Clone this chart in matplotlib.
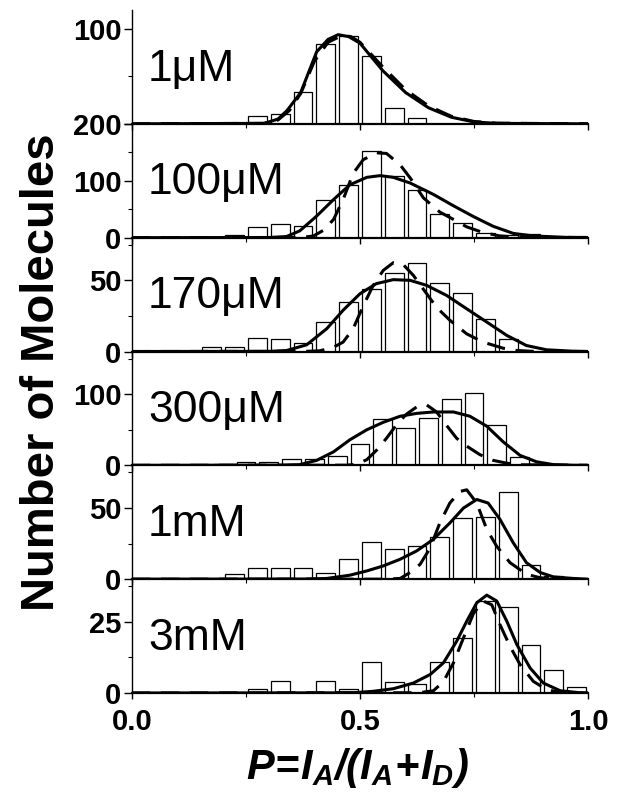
import matplotlib
matplotlib.use("Agg")
import matplotlib.pyplot as plt
from matplotlib import font_manager
from matplotlib.ticker import FixedLocator, FixedFormatter, NullFormatter

# ---------------- data ----------------
labels = ["1\u03bcM", "100\u03bcM", "170\u03bcM", "300\u03bcM", "1mM", "3mM"]

p1_x = [0.275, 0.325, 0.375, 0.425, 0.475, 0.525, 0.575, 0.625]
p1_h = [8, 10, 34, 84, 93, 72, 17, 6]
p2_x = [0.225, 0.275, 0.325, 0.375, 0.425, 0.475, 0.525, 0.575, 0.625, 0.675,
        0.725, 0.775, 0.825, 0.875, 0.925, 0.975]
p2_h = [4, 19, 24, 21, 67, 92, 152, 109, 83, 41, 26, 9, 5, 6, 1, 3]
p3_x = [0.175, 0.225, 0.275, 0.325, 0.375, 0.425, 0.475, 0.525, 0.575, 0.625,
        0.675, 0.725, 0.775, 0.825]
p3_h = [3, 3, 9.5, 9, 6, 21, 35, 44, 55, 62.5, 48, 41, 22.5, 9]
p4_x = [0.20, 0.25, 0.30, 0.35, 0.40, 0.45, 0.50, 0.55, 0.60, 0.65, 0.70, 0.75,
        0.80, 0.85, 0.90]
p4_h = [2, 4, 5, 9.5, 8.5, 13, 30, 65, 52, 67, 93, 102, 57, 12, 2]
p5_x = [0.225, 0.275, 0.325, 0.375, 0.425, 0.475, 0.525, 0.575, 0.625, 0.675,
        0.725, 0.775, 0.825, 0.875, 0.925]
p5_h = [3.5, 7.5, 7.5, 7.5, 4, 14.5, 26, 21, 23, 29.5, 43, 44, 61, 10, 2]
p6_x = [0.275, 0.325, 0.425, 0.475, 0.525, 0.575, 0.625, 0.675, 0.725, 0.775,
        0.825, 0.875, 0.925, 0.975]
p6_h = [1.4, 4.3, 4.3, 1.4, 11, 4, 3.3, 11, 19.4, 32.3, 30.2, 17, 8.2, 2.1]

# solid fit curves
s1_x = [0, 0.29, 0.32, 0.34, 0.37, 0.405, 0.43, 0.452, 0.475, 0.5, 0.55, 0.6, 0.65, 0.7, 0.75, 0.8, 1.0]
s1_y = [0, 0.5, 5, 14, 33, 76, 89, 94, 92, 85, 56, 33, 17, 7, 2, 0.5, 0]
s2_x = [0, 0.3, 0.339, 0.368, 0.405, 0.442, 0.478, 0.515, 0.544, 0.573, 0.61, 0.661, 0.705,
        0.749, 0.792, 0.836, 0.88, 0.953, 1.0]
s2_y = [0, 0.3, 2, 12, 38, 67, 93, 106, 109, 106, 96, 76, 56, 37, 20, 7.5, 3, 0.5, 0]
s3_x = [0, 0.3, 0.339, 0.383, 0.427, 0.463, 0.5, 0.536, 0.573, 0.61, 0.646, 0.69, 0.734,
        0.778, 0.822, 0.865, 0.909, 0.968, 1.0]
s3_y = [0, 0.1, 0.7, 4.7, 16, 29, 40.6, 47.7, 50.5, 50, 46.5, 39.4, 30, 20.7, 11.3, 4.2, 1.2, 0.2, 0]
s4_x = [0, 0.33, 0.368, 0.405, 0.442, 0.478, 0.515, 0.551, 0.588, 0.624, 0.661, 0.705,
        0.741, 0.778, 0.814, 0.851, 0.887, 0.924, 0.968, 1.0]
s4_y = [0, 0.2, 1, 7, 19, 36, 50, 60.5, 69, 73, 75, 75, 69, 55, 33, 14, 5, 1, 0.1, 0]
s5_x = [0, 0.38, 0.427, 0.478, 0.515, 0.551, 0.588, 0.624, 0.661, 0.697, 0.727, 0.756,
        0.781, 0.807, 0.836, 0.865, 0.895, 0.924, 0.968, 1.0]
s5_y = [0, 0.1, 0.5, 2.8, 5.8, 9.3, 14, 19.8, 28, 39.5, 50, 56, 53.5, 42, 25.6, 11.6, 4.7, 1.6, 0.5, 0]
s6_x = [0, 0.44, 0.485, 0.529, 0.573, 0.617, 0.654, 0.683, 0.712, 0.734, 0.756, 0.778,
        0.8, 0.822, 0.844, 0.873, 0.902, 0.939, 0.982, 1.0]
s6_y = [0, 0.05, 0.1, 0.6, 1.5, 3.5, 6.5, 10.6, 18.2, 25.2, 31.7, 34.4, 32.3, 25.2, 17, 8.8,
        3.5, 0.8, 0.1, 0]

# dashed fit curves
d1_x = [0, 0.29, 0.32, 0.345, 0.37, 0.4, 0.43, 0.46, 0.48, 0.5, 0.55, 0.6, 0.65, 0.7, 0.75, 0.8, 1.0]
d1_y = [0, 0.5, 4, 14, 32, 66, 86, 93, 92, 86, 60, 36, 19, 8, 2.5, 0.7, 0]
d2_x = [0, 0.37, 0.398, 0.42, 0.442, 0.463, 0.485, 0.507, 0.536, 0.558, 0.588, 0.61, 0.639,
        0.675, 0.705, 0.734, 0.77, 0.807, 0.85, 1.0]
d2_y = [0, 0.3, 3, 13, 32, 67, 113, 137, 149, 148, 128, 105, 70, 45, 32, 19, 9, 3, 0.5, 0]
d3_x = [0, 0.38, 0.412, 0.442, 0.463, 0.485, 0.507, 0.529, 0.551, 0.573, 0.595, 0.617, 0.643,
        0.668, 0.697, 0.734, 0.77, 0.814, 0.844, 0.88, 1.0]
d3_y = [0, 0.1, 0.5, 3, 6.6, 16, 32, 46.5, 57, 62.4, 61, 53.5, 42, 31, 22, 12.4, 6.6, 2.3, 0.7, 0.1, 0]
d4_x = [0, 0.47, 0.493, 0.515, 0.536, 0.558, 0.58, 0.602, 0.624, 0.646, 0.668, 0.69, 0.712,
        0.734, 0.763, 0.792, 0.822, 0.851, 1.0]
d4_y = [0, 0.2, 1.5, 8, 21, 38, 57, 72, 82, 85, 75, 56, 38, 27, 15, 7, 3, 0.8, 0]
d5_x = [0, 0.55, 0.588, 0.61, 0.632, 0.654, 0.675, 0.697, 0.719, 0.734, 0.756, 0.778, 0.8,
        0.829, 0.865, 0.895, 0.924, 1.0]
d5_y = [0, 0, 0.5, 4.7, 10.5, 22, 39.5, 53.5, 61.6, 62.8, 53.5, 35, 23, 11.6, 3.5, 1, 0.2, 0]
d6_x = [0, 0.63, 0.661, 0.683, 0.705, 0.727, 0.749, 0.77, 0.789, 0.807, 0.829, 0.851, 0.88,
        0.909, 0.939, 1.0]
d6_y = [0, 0.1, 0.8, 4, 10.6, 19.4, 28, 32.3, 31, 24, 16.4, 10, 4.1, 1.2, 0.2, 0]

y_max = [120, 200, 80, 160, 80, 40]
y_major = [[0, 100], [0, 100, 200], [0, 50], [0, 100], [0, 50], [0, 25]]
# the top panel's "0" sits under the "200" of the panel below it in the reference
y_major_labels = [["", "100"], ["0", "100", "200"], ["0", "50"], ["0", "100"],
                  ["0", "50"], ["0", "25"]]
y_minor = [[50], [50, 150], [25, 75], [50, 150], [25, 75], [12.5, 37.5]]
x_major = [0.0, 0.5, 1.0]
x_minor = [0.25, 0.75]
x_ticklabels = ["0.0", "0.5", "1.0"]

bars_x = [p1_x, p2_x, p3_x, p4_x, p5_x, p6_x]
bars_h = [p1_h, p2_h, p3_h, p4_h, p5_h, p6_h]
solid = [(s1_x, s1_y), (s2_x, s2_y), (s3_x, s3_y), (s4_x, s4_y), (s5_x, s5_y), (s6_x, s6_y)]
dashed = [(d1_x, d1_y), (d2_x, d2_y), (d3_x, d3_y), (d4_x, d4_y), (d5_x, d5_y), (d6_x, d6_y)]

# ---------------- fonts ----------------
def has_font(name):
    try:
        font_manager.findfont(font_manager.FontProperties(family=name, weight="bold"),
                              fallback_to_default=False)
        return True
    except Exception:
        return False

SANS = "Liberation Sans"
NARROW = "Liberation Sans Narrow" if has_font("Liberation Sans Narrow") else None

plt.rcParams["font.family"] = [SANS, "DejaVu Sans"]
plt.rcParams["mathtext.fontset"] = "custom"
plt.rcParams["mathtext.rm"] = "Liberation Sans:bold:italic"
plt.rcParams["mathtext.it"] = "Liberation Sans:bold:italic"
plt.rcParams["mathtext.bf"] = "Liberation Sans:bold:italic"

# ---------------- figure ----------------
W, H = 620, 793
fig = plt.figure(figsize=(W / 100, H / 100), dpi=100)
left, right = 132 / W, 588 / W
top_px, bot_px = 10, 693
ph = (bot_px - top_px) / 6 / H

for i in range(6):
    y0 = 1 - bot_px / H + (5 - i) * ph
    ax = fig.add_axes([left, y0, right - left, ph])
    ax.patch.set_alpha(0)
    ax.bar(bars_x[i], bars_h[i], width=0.041, facecolor="white", edgecolor="black",
           linewidth=0.9, zorder=2)
    ax.plot(solid[i][0], solid[i][1], color="black", lw=2.2, zorder=4,
            solid_joinstyle="round", solid_capstyle="round")
    ax.plot(dashed[i][0], dashed[i][1], color="black", lw=2.2, zorder=3,
            dashes=(6.0, 3.5), dash_capstyle="butt")
    ax.set_xlim(0, 1.0)
    ax.set_ylim(0, y_max[i])
    for s in ("top", "right"):
        ax.spines[s].set_visible(False)
    ax.spines["left"].set_linewidth(1.0)
    ax.spines["bottom"].set_linewidth(1.6)
    ax.yaxis.set_major_locator(FixedLocator(y_major[i]))
    ax.yaxis.set_major_formatter(FixedFormatter(y_major_labels[i]))
    ax.yaxis.set_minor_locator(FixedLocator(y_minor[i]))
    ax.xaxis.set_major_locator(FixedLocator(x_major))
    ax.xaxis.set_minor_locator(FixedLocator(x_minor))
    ax.tick_params(axis="y", which="major", direction="out", length=6, width=1.0, pad=1.5,
                   labelsize=21)
    ax.tick_params(axis="y", which="minor", direction="out", length=3, width=0.8)
    ax.tick_params(axis="x", which="major", direction="out", length=4, width=1.0, pad=7,
                   labelsize=21)
    ax.tick_params(axis="x", which="minor", direction="out", length=3, width=0.8)
    for t in ax.get_yticklabels():
        t.set_fontweight("bold")
    if i < 5:
        ax.xaxis.set_major_formatter(NullFormatter())
    else:
        ax.set_xticklabels(x_ticklabels, fontweight="bold")
    ax.text(0.035, 0.38, labels[i], transform=ax.transAxes, fontsize=32,
            ha="left", va="baseline", zorder=5)

# y label
if NARROW:
    fig.text(0.067, 1 - 372 / H, "Number of Molecules", rotation=90, ha="center",
             va="center", family=[NARROW, SANS], fontweight="bold", fontsize=41)
else:
    fig.text(0.067, 1 - 372 / H, "Number of Molecules", rotation=90, ha="center",
             va="center", fontweight="bold", fontsize=34)

# x label
fig.text(357 / W, 1 - 768 / H, r"$P\!=\!I_A/(I_A\!+\!I_D)$", ha="center", va="center",
         fontsize=30)

fig.savefig("out.png", dpi=100, facecolor="white")
